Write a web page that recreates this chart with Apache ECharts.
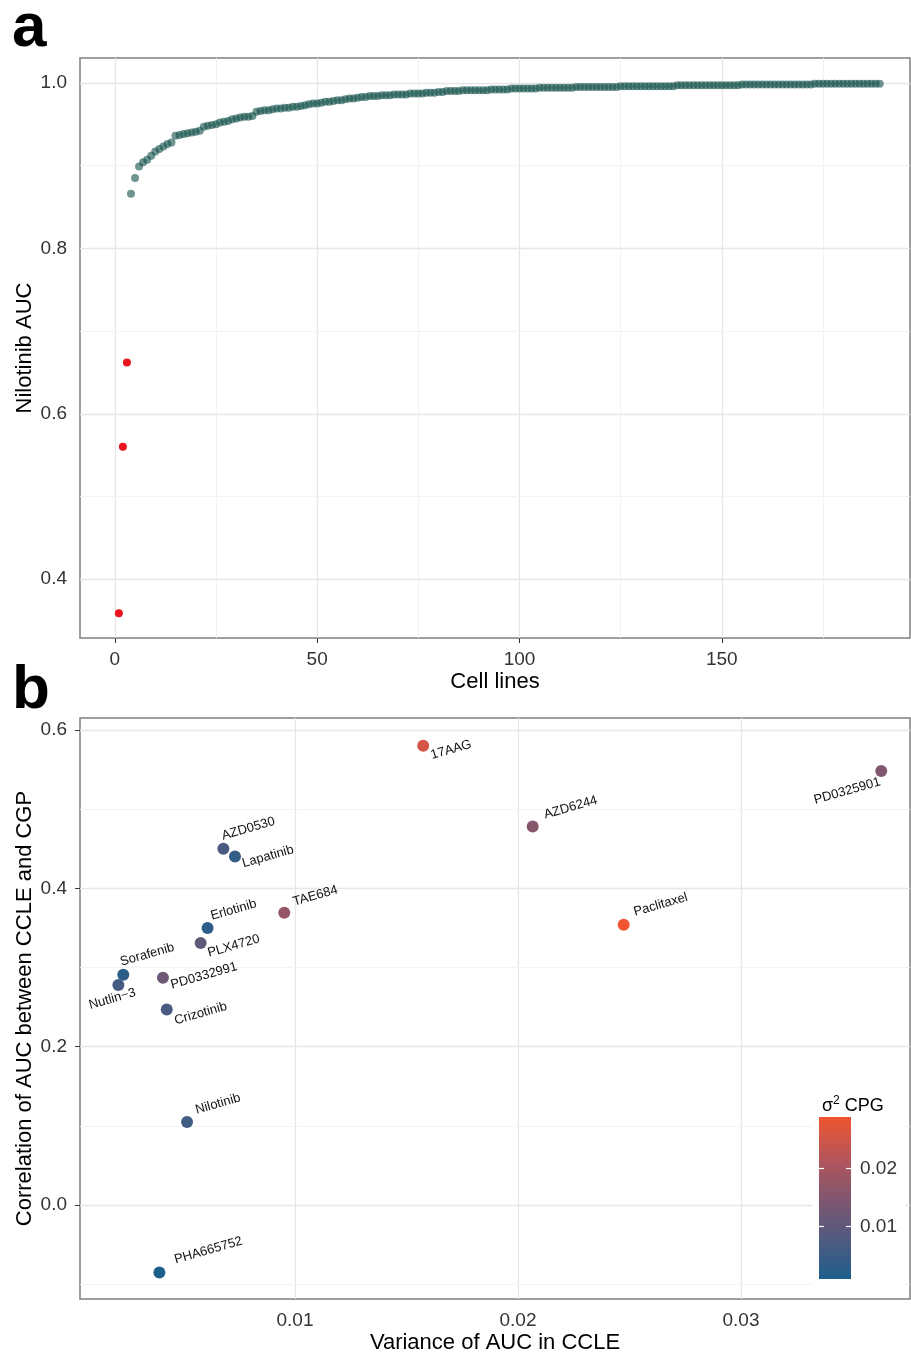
<!DOCTYPE html>
<html>
<head>
<meta charset="utf-8">
<script src="https://cdn.jsdelivr.net/npm/echarts@6/dist/echarts.min.js"></script>
<style>
  html, body { margin: 0; padding: 0; background: #fff; }
  #chart { width: 911px; height: 1355px; }
</style>
</head>
<body>
<div id="chart"></div>
<script>
// ---- panel a: Nilotinib AUC per cell line (sorted) ----
// the three sensitive cell lines (1..3), drawn in red
const sensitiveAuc = [0.359, 0.560, 0.662];
// remaining cell lines (4..189)
const otherAuc = [
  0.866, 0.885, 0.899, 0.904, 0.907, 0.912, 0.917, 0.920, 0.923, 0.926,
  0.928, 0.936, 0.937, 0.938, 0.939, 0.940, 0.941, 0.942, 0.947, 0.948,
  0.949, 0.950, 0.952, 0.953, 0.954, 0.956, 0.957, 0.958, 0.959, 0.959,
  0.960, 0.965, 0.966, 0.967, 0.967, 0.968, 0.969, 0.969, 0.970, 0.970,
  0.971, 0.971, 0.972, 0.973, 0.974, 0.975, 0.975, 0.976, 0.977, 0.977,
  0.978, 0.979, 0.979, 0.980, 0.981, 0.981, 0.982, 0.983, 0.983, 0.984,
  0.984, 0.984, 0.985, 0.985, 0.985, 0.986, 0.986, 0.986, 0.986, 0.987,
  0.987, 0.987, 0.987, 0.988, 0.988, 0.988, 0.989, 0.989, 0.990, 0.990,
  0.990, 0.990, 0.991, 0.991, 0.991, 0.991, 0.991, 0.991, 0.991, 0.992,
  0.992, 0.992, 0.992, 0.992, 0.993, 0.993, 0.993, 0.993, 0.993, 0.993,
  0.993, 0.994, 0.994, 0.994, 0.994, 0.994, 0.994, 0.994, 0.994, 0.994,
  0.995, 0.995, 0.995, 0.995, 0.995, 0.995, 0.995, 0.995, 0.995, 0.995,
  0.995, 0.996, 0.996, 0.996, 0.996, 0.996, 0.996, 0.996, 0.996, 0.996,
  0.996, 0.996, 0.996, 0.996, 0.996, 0.997, 0.997, 0.997, 0.997, 0.997,
  0.997, 0.997, 0.997, 0.997, 0.997, 0.997, 0.997, 0.997, 0.997, 0.997,
  0.997, 0.998, 0.998, 0.998, 0.998, 0.998, 0.998, 0.998, 0.998, 0.998,
  0.998, 0.998, 0.998, 0.998, 0.998, 0.998, 0.998, 0.998, 0.998, 0.999,
  0.999, 0.999, 0.999, 0.999, 0.999, 0.999, 0.999, 0.999, 0.999, 0.999,
  0.999, 0.999, 0.999, 0.999, 0.999, 0.999
];
const aTicksX = [0, 50, 100, 150];
const aMinorX = [25, 75, 125, 175];
const aTicksY = [0.4, 0.6, 0.8, 1.0];
const aMinorY = [0.5, 0.7, 0.9];

// ---- panel b: per-drug variance vs correlation ----
const drugs = ['17AAG', 'AZD0530', 'Lapatinib', 'TAE684', 'Erlotinib', 'PLX4720', 'Sorafenib',
  'Nutlin\u22123', 'PD0332991', 'Crizotinib', 'AZD6244', 'PD0325901', 'Paclitaxel', 'Nilotinib', 'PHA665752'];
const varianceCCLE = [0.01575, 0.00679, 0.00731, 0.00952, 0.00608, 0.00577, 0.00230,
  0.00208, 0.00408, 0.00425, 0.02066, 0.03629, 0.02474, 0.00516, 0.00392];
const correlation = [0.580, 0.450, 0.440, 0.369, 0.350, 0.331, 0.291,
  0.278, 0.287, 0.247, 0.478, 0.548, 0.354, 0.105, -0.085];
const cpgVariance = [0.0255, 0.007, 0.004, 0.0175, 0.003, 0.010, 0.003,
  0.0065, 0.012, 0.007, 0.0155, 0.015, 0.0288, 0.0057, 0.001];
const bTicksX = [0.01, 0.02, 0.03];
const bMinorX = [0.005, 0.015, 0.025, 0.035];
const bTicksY = [0.0, 0.2, 0.4, 0.6];
const bMinorY = [-0.1, 0.1, 0.3, 0.5];
const cpgTicks = [0.01, 0.02];
const cpgMin = 0.001, cpgMax = 0.0288;

// label placement: screen offset of label centre from the point (px)
const labelOffsets = {
  '17AAG': [28, 4], 'AZD0530': [25, -20], 'Lapatinib': [33, 0], 'TAE684': [31, -17],
  'Erlotinib': [26, -18], 'PLX4720': [33, 3], 'Sorafenib': [24, -20], 'Nutlin\u22123': [-6, 14],
  'PD0332991': [41, -2], 'Crizotinib': [34, 4], 'AZD6244': [38, -19], 'PD0325901': [-34, 20],
  'Paclitaxel': [37, -20], 'Nilotinib': [31, -18], 'PHA665752': [49, -22]
};
const labelAngle = 16;

const gradColors = ['#1d5f8c', '#515a7f', '#82566f', '#b6555a', '#f05530'];
const FONT = 'Liberation Sans, Arial, sans-serif';

const chart = echarts.init(document.getElementById('chart'));

// label offsets are applied in the rotated frame, so turn screen offsets into that frame
function toLabelFrame(d) {
  const t = labelAngle * Math.PI / 180;
  const c = Math.cos(t), s = Math.sin(t);
  return [d[0] * c - d[1] * s, d[0] * s + d[1] * c];
}

function gridLines(major, minor, key) {
  const d = [];
  minor.forEach(v => d.push({ [key]: v, lineStyle: { color: '#f3f3f3', width: 1 } }));
  major.forEach(v => d.push({ [key]: v, lineStyle: { color: '#e6e6e6', width: 1.3 } }));
  return d;
}

function bgSeries(xi, yi, data) {
  return {
    type: 'scatter', xAxisIndex: xi, yAxisIndex: yi, data: [], z: 1,
    markLine: {
      z: 1, silent: true, symbol: ['none', 'none'], animation: false,
      label: { show: false }, lineStyle: { type: 'solid' }, data: data
    }
  };
}

const axisText = { color: '#333', fontSize: 19, fontFamily: FONT };
const nameText = { color: '#000', fontSize: 22, fontFamily: FONT };
const tick = { show: true, length: 5, lineStyle: { color: '#333', width: 1 } };

const option = {
  backgroundColor: '#fff',
  animation: false,
  title: [
    { text: 'a', left: 7, top: -7, textStyle: { fontSize: 62, fontWeight: 'bold', fontFamily: FONT, color: '#000', lineHeight: 62 } },
    { text: 'b', left: 7, top: 655, textStyle: { fontSize: 62, fontWeight: 'bold', fontFamily: FONT, color: '#000', lineHeight: 62 } },
    {
      text: '{s|\u03c3}{sup|2}{s| CPG}', left: 817, top: 1090,
      textStyle: { fontWeight: 'normal', rich: {
        s: { fontSize: 18, fontWeight: 'normal', fontFamily: FONT, color: '#000', verticalAlign: 'bottom' },
        sup: { fontSize: 12, fontWeight: 'normal', fontFamily: FONT, color: '#000', padding: [0, 0, 8, 0], verticalAlign: 'bottom' }
      } }
    }
  ],
  grid: [
    { left: 80, top: 58, width: 830, height: 580, show: true, borderColor: '#7f7f7f', borderWidth: 1.5, backgroundColor: 'transparent' },
    { left: 80, top: 718, width: 830, height: 582, show: true, borderColor: '#7f7f7f', borderWidth: 1.5, backgroundColor: 'transparent' },
    { left: 819, top: 1117, width: 32, height: 162, show: false }
  ],
  xAxis: [
    {
      gridIndex: 0, type: 'value', min: -8.6, max: 196.5,
      name: 'Cell lines', nameLocation: 'middle', nameGap: 33, nameMoveOverlap: false, nameTextStyle: nameText,
      axisLine: { show: false }, splitLine: { show: false },
      axisTick: Object.assign({ customValues: aTicksX }, tick),
      axisLabel: Object.assign({ customValues: aTicksX, margin: 12 }, axisText)
    },
    {
      gridIndex: 1, type: 'value', min: 0.00036, max: 0.03758,
      name: 'Variance of AUC in CCLE', nameLocation: 'middle', nameGap: 33, nameMoveOverlap: false, nameTextStyle: nameText,
      axisLine: { show: false }, splitLine: { show: false },
      axisTick: Object.assign({ customValues: bTicksX }, tick),
      axisLabel: Object.assign({ customValues: bTicksX, margin: 12, formatter: v => v.toFixed(2) }, axisText)
    },
    { gridIndex: 2, type: 'value', min: 0, max: 1, show: false }
  ],
  yAxis: [
    {
      gridIndex: 0, type: 'value', min: 0.329, max: 1.030,
      name: 'Nilotinib AUC', nameLocation: 'middle', nameGap: 44, nameMoveOverlap: false, nameTextStyle: nameText,
      axisLine: { show: false }, splitLine: { show: false },
      axisTick: Object.assign({ customValues: aTicksY }, tick),
      axisLabel: Object.assign({ customValues: aTicksY, margin: 13, formatter: v => v.toFixed(1) }, axisText)
    },
    {
      gridIndex: 1, type: 'value', min: -0.1185, max: 0.615,
      name: 'Correlation of AUC between CCLE and CGP', nameLocation: 'middle', nameGap: 44, nameMoveOverlap: false, nameTextStyle: nameText,
      axisLine: { show: false }, splitLine: { show: false },
      axisTick: Object.assign({ customValues: bTicksY }, tick),
      axisLabel: Object.assign({ customValues: bTicksY, margin: 13, formatter: v => v.toFixed(1) }, axisText)
    },
    {
      gridIndex: 2, type: 'value', min: cpgMin, max: cpgMax, position: 'left', z: 10,
      axisLine: { show: false }, splitLine: { show: false }, axisLabel: { show: false },
      axisTick: { show: true, inside: true, length: 5, customValues: cpgTicks, lineStyle: { color: '#fff', width: 1.2 } }
    },
    {
      gridIndex: 2, type: 'value', min: cpgMin, max: cpgMax, position: 'right', z: 10,
      axisLine: { show: false }, splitLine: { show: false },
      axisTick: { show: true, inside: true, length: 5, customValues: cpgTicks, lineStyle: { color: '#fff', width: 1.2 } },
      axisLabel: Object.assign({ customValues: cpgTicks, margin: 9, formatter: v => v.toFixed(2) }, axisText)
    }
  ],
  visualMap: {
    type: 'continuous', show: false, seriesIndex: 4, dimension: 2,
    min: cpgMin, max: cpgMax, inRange: { color: gradColors }
  },
  series: [
    bgSeries(0, 0, gridLines(aTicksX, aMinorX, 'xAxis').concat(gridLines(aTicksY, aMinorY, 'yAxis'))),
    bgSeries(1, 1, gridLines(bTicksX, bMinorX, 'xAxis').concat(gridLines(bTicksY, bMinorY, 'yAxis'))),
    {
      type: 'scatter', xAxisIndex: 0, yAxisIndex: 0, z: 3,
      symbol: 'circle', symbolSize: 8,
      itemStyle: { color: '#0f4e48', opacity: 0.6 },
      data: otherAuc.map((v, i) => [i + sensitiveAuc.length + 1, v])
    },
    {
      type: 'scatter', xAxisIndex: 0, yAxisIndex: 0, z: 4,
      symbol: 'circle', symbolSize: 8,
      itemStyle: { color: '#ea151e', opacity: 1 },
      data: sensitiveAuc.map((v, i) => [i + 1, v])
    },
    {
      type: 'scatter', xAxisIndex: 1, yAxisIndex: 1, z: 4,
      symbol: 'circle', symbolSize: 12,
      itemStyle: { opacity: 1 },
      label: {
        show: true, position: 'inside', rotate: labelAngle, align: 'center', verticalAlign: 'middle',
        formatter: '{b}', fontSize: 13, fontFamily: FONT, color: '#111',
        textBorderWidth: 0, opacity: 1
      },
      data: drugs.map((d, i) => ({
        name: d,
        value: [varianceCCLE[i], correlation[i], cpgVariance[i]],
        label: { offset: toLabelFrame(labelOffsets[d]) }
      }))
    },
    {
      type: 'custom', xAxisIndex: 2, yAxisIndex: 2, z: 6,
      data: [[0, cpgMin, cpgMax]],
      renderItem: function (params, api) {
        const p0 = api.coord([0, api.value(1)]);
        const p1 = api.coord([1, api.value(2)]);
        return {
          type: 'group',
          children: [
            {
              // legend background box
              type: 'rect',
              shape: { x: p0[0] - 7, y: p1[1] - 32, width: 93, height: p0[1] - p1[1] + 42 },
              style: { fill: '#fff' }
            },
            {
              type: 'rect',
              shape: { x: p0[0], y: p1[1], width: p1[0] - p0[0], height: p0[1] - p1[1] },
              style: {
                fill: new echarts.graphic.LinearGradient(0, 1, 0, 0,
                  gradColors.map((c, i) => ({ offset: i / (gradColors.length - 1), color: c })))
              }
            }
          ]
        };
      }
    }
  ]
};

chart.setOption(option);
</script>
</body>
</html>
